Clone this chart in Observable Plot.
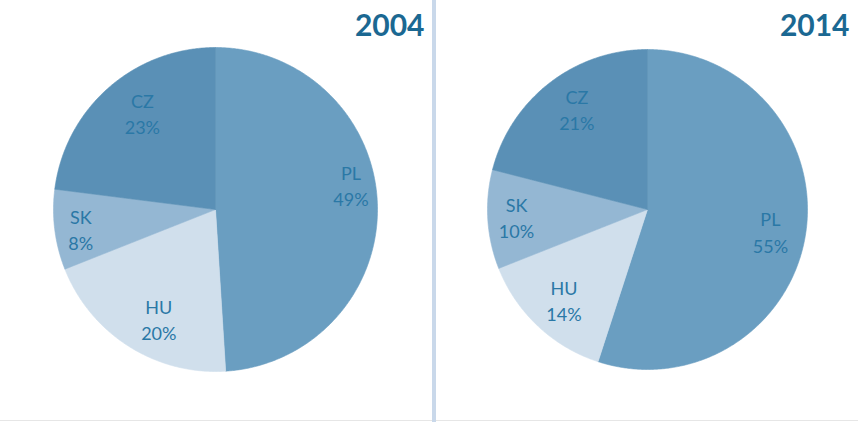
<!DOCTYPE html>
<html><head><meta charset="utf-8">
<script src="https://cdn.jsdelivr.net/npm/d3@7"></script>
<script src="https://cdn.jsdelivr.net/npm/@observablehq/plot@0.6"></script>
<style>
body{margin:0;background:#fff;}
#wrap{position:relative;width:858px;height:429px;overflow:hidden;background:#fff;}
#left{position:absolute;left:0;top:0;}
#right{position:absolute;left:436px;top:0;}
#divider{position:absolute;left:432px;top:0;width:4px;height:422px;background:#c9d8ea;}
#bottom{position:absolute;left:0;top:420px;width:858px;height:1px;background:#e6e6e6;}
svg{overflow:visible;}
</style>
</head><body>
<div id="wrap"><div id="bottom"></div><div id="left"></div><div id="divider"></div><div id="right"></div></div>
<script>
const countries = ["PL", "HU", "SK", "CZ"];
const years = ["2004", "2014"];
const shares2004 = [49, 20, 8, 23];
const shares2014 = [55, 14, 10, 21];

const colors = ["#6a9ec1", "#d0dfec", "#94b7d3", "#5a90b6"];
const textColor = "#2a78a6";
const titleColor = "#1b6892";

// layout per panel: label placement as [angle shift in degrees, radius fraction] relative to slice mid-angle
const panels = [
  {el: "#left", width: 432, height: 429, cx: 215, cy: 209, r: 162, title: years[0], values: shares2004,
   label: {PL: [-8.5, 0.85], HU: [-5, 0.76], SK: [-0.8, 0.84], CZ: [4.4, 0.75]}, titleRight: 424},
  {el: "#right", width: 422, height: 429, cx: 211, cy: 209, r: 160, title: years[1], values: shares2014,
   label: {PL: [1, 0.78], HU: [-0.5, 0.77], SK: [0.5, 0.82], CZ: [2.8, 0.77]}, titleRight: 413}
];

for (const p of panels) {
  const arcs = d3.pie().sort(null).value(d => d)(p.values);
  const pts = [];
  const labels = [];
  arcs.forEach((a, i) => {
    const c = countries[i];
    pts.push({c, x: 0, y: 0});
    const n = Math.max(2, Math.ceil((a.endAngle - a.startAngle) / (Math.PI / 360)));
    for (let k = 0; k <= n; k++) {
      const t = a.startAngle + (a.endAngle - a.startAngle) * k / n;
      pts.push({c, x: Math.sin(t), y: Math.cos(t)});
    }
    pts.push({c, x: 0, y: 0});
    const [shift, f] = p.label[c];
    const m = (a.startAngle + a.endAngle) / 2 + shift * Math.PI / 180;
    labels.push({c, x: f * Math.sin(m), y: f * Math.cos(m), text: c + "\n" + p.values[i] + "%"});
  });
  const mL = p.cx - p.r, mR = p.width - (p.cx + p.r), mT = p.cy - p.r, mB = p.height - (p.cy + p.r);
  const chart = Plot.plot({
    width: p.width, height: p.height,
    marginLeft: mL, marginRight: mR, marginTop: mT, marginBottom: mB,
    x: {axis: null, domain: [-1, 1]},
    y: {axis: null, domain: [-1, 1]},
    color: {domain: countries, range: colors},
    style: {fontFamily: "Lato, sans-serif", background: "transparent"},
    marks: [
      Plot.line(pts, {x: "x", y: "y", z: "c", fill: "c", stroke: "c", strokeWidth: 0.6, curve: "linear"}),
      Plot.text(labels, {x: "x", y: "y", text: "text", fill: textColor, fontSize: 18, lineHeight: 1.45, lineAnchor: "middle", textAnchor: "middle"}),
      Plot.text([p.title], {frameAnchor: "top-right", dx: p.titleRight - (p.width - mR), dy: 35 - mT, lineAnchor: "bottom", textAnchor: "end", fill: titleColor, fontSize: 30, fontWeight: "bold"})
    ]
  });
  document.querySelector(p.el).appendChild(chart);
}
</script>
</body></html>
